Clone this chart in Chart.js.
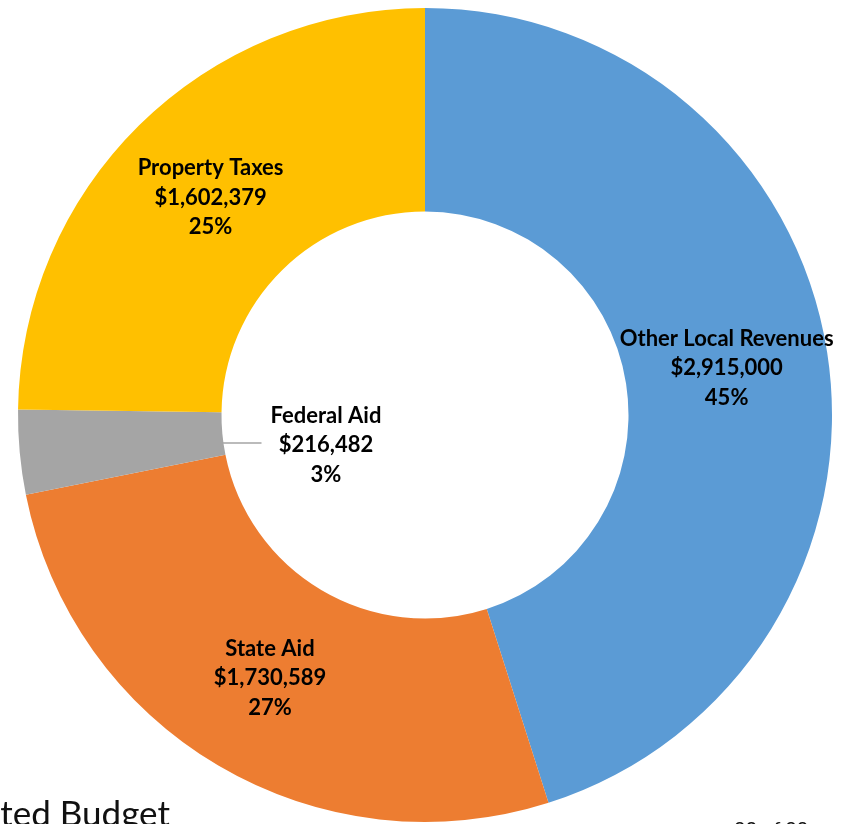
<!DOCTYPE html>
<html>
<head>
<meta charset="utf-8">
<script src="https://cdn.jsdelivr.net/npm/chart.js@4/dist/chart.umd.min.js"></script>
<style>
  html, body { margin: 0; padding: 0; background: #fff; overflow: hidden; }
  #wrap { position: relative; width: 848px; height: 824px; }
  #footer-left { position: absolute; right: calc(100% - 170px); top: 791px; white-space: nowrap;
    font-family: Lato, sans-serif; font-size: 35px; color: #111; }
  #footer-right { position: absolute; left: 734px; top: 816px; white-space: nowrap;
    font-family: Lato, sans-serif; font-size: 20px; color: #111; }
</style>
</head>
<body>
<div id="wrap">
  <canvas id="myChart" width="848" height="824"></canvas>
  <div id="footer-left">Adopted Budget</div>
  <div id="footer-right">92 of 99</div>
</div>
<script>
const categories = ["Other Local Revenues", "State Aid", "Federal Aid", "Property Taxes"];
const amounts = [2915000, 1730589, 216482, 1602379];
const percentLabels = ["45%", "27%", "3%", "25%"];
const sliceColors = ["#5B9BD5", "#ED7D31", "#A5A5A5", "#FFC000"];

function money(v) {
    return "$" + v.toLocaleString("en-US");
}

// draws the Excel-style data labels (name / amount / percent)
const sliceLabels = {
    id: "sliceLabels",
    afterDatasetsDraw(chart) {
        const ctx = chart.ctx;
        const arcs = chart.getDatasetMeta(0).data;
        ctx.save();
        ctx.font = "bold 22px Lato";
        ctx.fillStyle = "#000";
        ctx.textAlign = "center";
        ctx.textBaseline = "middle";
        const lineH = 29.5;
        arcs.forEach((arc, i) => {
            const lines = [categories[i], money(amounts[i]), percentLabels[i]];
            let x, y;
            if (categories[i] === "Federal Aid") {
                // label sits in the hole with a leader line
                x = arc.x - 99;
                y = arc.y + 30;
                ctx.strokeStyle = "#A5A5A5";
                ctx.lineWidth = 1.5;
                ctx.beginPath();
                ctx.moveTo(arc.x - arc.innerRadius, arc.y + 28);
                ctx.lineTo(arc.x - arc.innerRadius + 40, arc.y + 28);
                ctx.stroke();
            } else {
                const p = arc.tooltipPosition();
                x = p.x;
                y = p.y;
            }
            lines.forEach((t, k) => ctx.fillText(t, x, y + (k - 1) * lineH));
        });
        ctx.restore();
    }
};

new Chart(document.getElementById("myChart").getContext("2d"), {
    type: "doughnut",
    data: {
        labels: categories,
        datasets: [{
            data: amounts,
            backgroundColor: sliceColors,
            borderWidth: 0
        }]
    },
    options: {
        responsive: false,
        animation: false,
        cutout: "50%",
        layout: { padding: { left: 18, right: 16, top: 8, bottom: 2 } },
        plugins: {
            legend: { display: false },
            tooltip: { enabled: false }
        }
    },
    plugins: [sliceLabels]
});
</script>
</body>
</html>
